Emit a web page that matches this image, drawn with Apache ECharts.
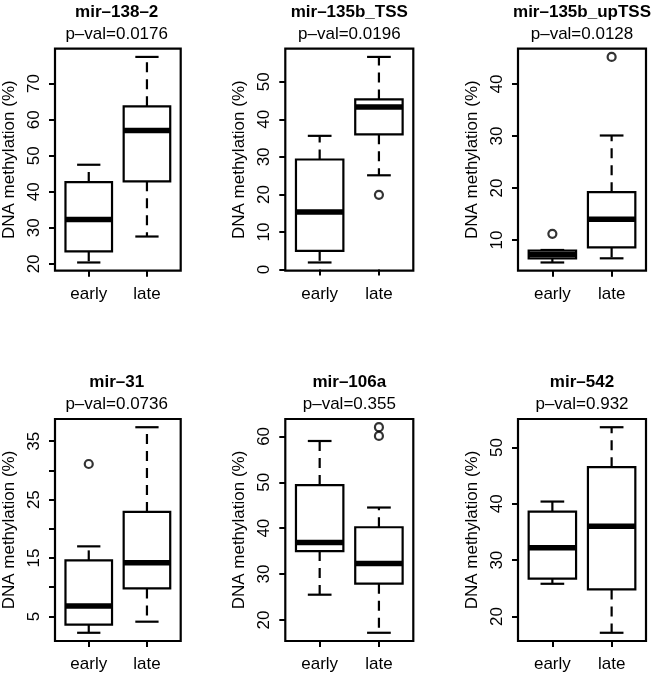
<!DOCTYPE html>
<html><head><meta charset="utf-8">
<script src="https://cdn.jsdelivr.net/npm/echarts@6/dist/echarts.min.js"></script>
<style>html,body{margin:0;padding:0;background:#fff}#c{width:652px;height:675px}</style>
</head><body><div id="c"></div>
<script>
const groups = ['early', 'late'];
const titles = ['mir–138–2', 'mir–135b_TSS', 'mir–135b_upTSS', 'mir–31', 'mir–106a', 'mir–542'];
const pvals = ['p–val=0.0176', 'p–val=0.0196', 'p–val=0.0128', 'p–val=0.0736', 'p–val=0.355', 'p–val=0.932'];
// [lower whisker, Q1, median, Q3, upper whisker]
const earlyStats = [
  [20.4, 23.5, 32.3, 42.7, 47.5],
  [1.9, 5.0, 15.3, 29.3, 35.6],
  [5.7, 6.5, 7.3, 8.0, 8.1],
  [2.2, 3.6, 6.8, 14.6, 17.0],
  [25.5, 35.0, 36.9, 49.4, 59.0],
  [25.8, 26.7, 32.2, 38.6, 40.4]
];
const lateStats = [
  [27.6, 42.9, 57.0, 63.7, 77.4],
  [25.1, 36.0, 43.3, 45.3, 56.6],
  [6.5, 8.6, 14.0, 19.2, 30.1],
  [4.1, 9.8, 14.2, 22.9, 37.4],
  [17.2, 27.9, 32.3, 40.2, 44.5],
  [17.1, 24.8, 36.0, 46.5, 53.6]
];
const earlyOutliers = [[], [], [11.2], [31.1], [], []];
const lateOutliers = [[], [19.9], [45.2], [], [60.1, 62.0], []];
const yTicks = [
  [20, 30, 40, 50, 60, 70],
  [0, 10, 20, 30, 40, 50],
  [10, 20, 30, 40],
  [5, 10, 15, 20, 25, 30, 35],
  [20, 30, 40, 50, 60],
  [20, 30, 40, 50]
];
const yLabels = [
  [20, 30, 40, 50, 60, 70],
  [0, 10, 20, 30, 40, 50],
  [10, 20, 30, 40],
  [5, 15, 25, 35],
  [20, 30, 40, 50, 60],
  [20, 30, 40, 50]
];
const yName = 'DNA methylation (%)';

const FONT = '"Liberation Sans", Arial, Helvetica, sans-serif';
const FS = 17;
const lefts = [52.7, 285.3, 518];
const tops = [48.7, 419];
const W = 128, H = 222;
const titleTops = [3.5, 373.5];

function renderBox(params, api) {
  const x = api.value(0);
  const low = api.value(1), q1 = api.value(2), med = api.value(3), q3 = api.value(4), high = api.value(5);
  const pTL = api.coord([x - 0.4, q3]);
  const pBR = api.coord([x + 0.4, q1]);
  const cLow = api.coord([x, low]);
  const cHigh = api.coord([x, high]);
  const cQ1 = api.coord([x, q1]);
  const cQ3 = api.coord([x, q3]);
  const cMed = api.coord([x, med]);
  const capL = api.coord([x - 0.2, med])[0];
  const capR = api.coord([x + 0.2, med])[0];
  const st = { stroke: '#000', lineWidth: 2.2 };
  const dash = { stroke: '#000', lineWidth: 2.2, lineDash: [10, 7] };
  return {
    type: 'group',
    children: [
      { type: 'line', shape: { x1: cQ3[0], y1: cQ3[1], x2: cHigh[0], y2: cHigh[1] }, style: dash },
      { type: 'line', shape: { x1: cQ1[0], y1: cQ1[1], x2: cLow[0], y2: cLow[1] }, style: dash },
      { type: 'line', shape: { x1: capL, y1: cHigh[1], x2: capR, y2: cHigh[1] }, style: st },
      { type: 'line', shape: { x1: capL, y1: cLow[1], x2: capR, y2: cLow[1] }, style: st },
      { type: 'rect', shape: { x: pTL[0], y: pTL[1], width: pBR[0] - pTL[0], height: pBR[1] - pTL[1] }, style: { fill: '#fff', stroke: '#000', lineWidth: 2.2 } },
      { type: 'line', shape: { x1: pTL[0], y1: cMed[1], x2: pBR[0], y2: cMed[1] }, style: { stroke: '#000', lineWidth: 5.5 } }
    ]
  };
}

const grid = [], xAxis = [], yAxis = [], series = [], title = [];
for (let i = 0; i < 6; i++) {
  const col = i % 3, row = Math.floor(i / 3);
  const left = lefts[col], top = tops[row];
  grid.push({ left: left, top: top, width: W, height: H, show: true, borderColor: '#000', borderWidth: 2.2, backgroundColor: 'transparent' });
  const all = earlyStats[i].concat(lateStats[i], earlyOutliers[i], lateOutliers[i]);
  const lo = Math.min.apply(null, all), hi = Math.max.apply(null, all);
  const ext = (hi - lo) * 0.04;
  xAxis.push({
    gridIndex: i, type: 'value', min: 0.42, max: 2.58,
    axisLine: { show: false }, splitLine: { show: false },
    axisTick: { show: true, customValues: [1, 2], length: 6, lineStyle: { color: '#000', width: 2 } },
    axisLabel: { show: true, customValues: [1, 2], formatter: function (v) { return groups[Math.round(v) - 1]; }, color: '#000', fontSize: FS, fontFamily: FONT, margin: 15 }
  });
  yAxis.push({
    gridIndex: i, type: 'value', min: lo - ext, max: hi + ext,
    axisLine: { show: false }, splitLine: { show: false },
    axisTick: { show: true, customValues: yTicks[i], length: 6, lineStyle: { color: '#000', width: 2 } },
    axisLabel: { show: true, customValues: yLabels[i], rotate: 90, color: '#000', fontSize: FS, fontFamily: FONT, margin: 12 },
    name: yName, nameLocation: 'middle', nameGap: 37,
    nameTextStyle: { color: '#000', fontSize: FS, fontFamily: FONT }
  });
  series.push({
    type: 'custom', xAxisIndex: i, yAxisIndex: i, renderItem: renderBox,
    encode: { x: 0, y: [1, 2, 3, 4, 5] },
    data: [[1].concat(earlyStats[i]), [2].concat(lateStats[i])], z: 2
  });
  const pts = earlyOutliers[i].map(function (v) { return [1, v]; }).concat(lateOutliers[i].map(function (v) { return [2, v]; }));
  series.push({
    type: 'scatter', xAxisIndex: i, yAxisIndex: i, data: pts, symbol: 'circle', symbolSize: 8,
    itemStyle: { color: '#fff', borderColor: '#000', borderWidth: 2.2 }, z: 3
  });
  title.push({
    text: titles[i], subtext: pvals[i], left: left + W / 2, top: titleTops[row], textAlign: 'center', padding: 0, itemGap: 5.5,
    textStyle: { color: '#000', fontSize: 17, fontWeight: 'bold', fontFamily: FONT },
    subtextStyle: { color: '#000', fontSize: FS, fontFamily: FONT }
  });
}

const chart = echarts.init(document.getElementById('c'), null, { renderer: 'canvas' });
chart.setOption({ animation: false, backgroundColor: '#fff', title: title, grid: grid, xAxis: xAxis, yAxis: yAxis, series: series });
</script>
</body></html>
